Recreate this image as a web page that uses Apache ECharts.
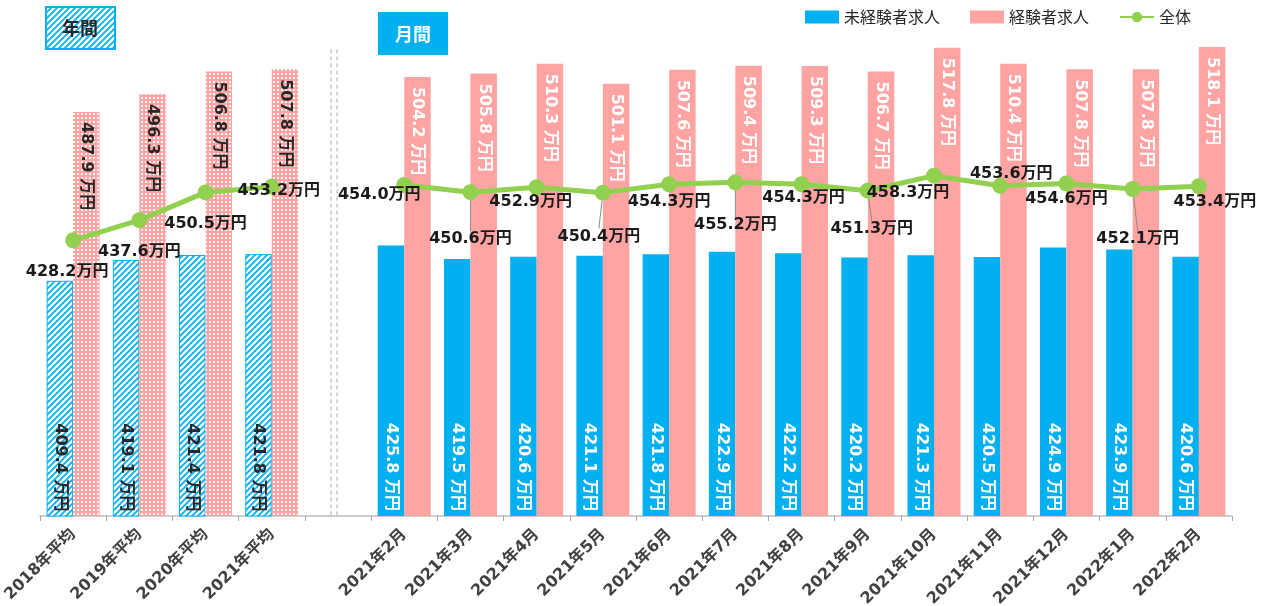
<!DOCTYPE html>
<html>
<head>
<meta charset="utf-8">
<script src="https://cdn.jsdelivr.net/npm/echarts@6/dist/echarts.min.js"></script>
<style>
html,body{margin:0;padding:0;background:#fff;}
#chart{width:1266px;height:606px;}
</style>
</head>
<body>
<div id="chart"></div>
<script>
const categories = ['2018年平均','2019年平均','2020年平均','2021年平均','',
  '2021年2月','2021年3月','2021年4月','2021年5月','2021年6月','2021年7月','2021年8月',
  '2021年9月','2021年10月','2021年11月','2021年12月','2022年1月','2022年2月'];
const inexperienced = [409.4,419.1,421.4,421.8,null,425.8,419.5,420.6,421.1,421.8,422.9,422.2,420.2,421.3,420.5,424.9,423.9,420.6];
const experienced = [487.9,496.3,506.8,507.8,null,504.2,505.8,510.3,501.1,507.6,509.4,509.3,506.7,517.8,510.4,507.8,507.8,518.1];
const overall = [428.2,437.6,450.5,453.2,null,454.0,450.6,452.9,450.4,454.3,455.2,454.3,451.3,458.3,453.6,454.6,452.1,453.4];
const annualCount = 4;

// label layout offsets for the 全体 line labels (style only)
const lineLabelOffsets = [[-6,31],[0,32],[0,31],[7,4],[0,0],[-25,10],[0,47],[-6,15],[-4,44],[0,18],[0,43],[2,14],[4,38],[-26,17],[11,-12],[0,15],[5,50],[16,16]];
const leaderIdx = [6,8,10,12,16];

const BLUE = '#00b0f0', PINK = '#ffa3a3', GREEN = '#92d050';
const FONT = "'DejaVu Sans','Noto Sans CJK JP',sans-serif";

function stripePattern(){
  const c = document.createElement('canvas'); c.width = 6; c.height = 6;
  const g = c.getContext('2d');
  g.fillStyle = '#fff'; g.fillRect(0,0,6,6);
  g.strokeStyle = BLUE; g.lineWidth = 1.8;
  g.beginPath();
  g.moveTo(-1,7); g.lineTo(7,-1);
  g.moveTo(-4,4); g.lineTo(4,-4);
  g.moveTo(2,10); g.lineTo(10,2);
  g.stroke();
  return c;
}
function dotPattern(){
  const c = document.createElement('canvas'); c.width = 4; c.height = 4;
  const g = c.getContext('2d');
  g.fillStyle = PINK; g.fillRect(0,0,4,4);
  g.fillStyle = 'rgba(255,255,255,0.9)'; g.fillRect(1,1,2,2);
  return c;
}
const stripe = {image: stripePattern(), repeat: 'repeat'};
const dots = {image: dotPattern(), repeat: 'repeat'};

const blueData = inexperienced.map((v,i)=> i < annualCount ? {
  value: v,
  itemStyle: {color: stripe, borderColor: BLUE, borderWidth: 1},
  label: {color: '#262626'}
} : v);
const pinkData = experienced.map((v,i)=> i < annualCount ? {
  value: v,
  itemStyle: {color: dots},
  label: {color: '#262626'}
} : v);
const lineData = overall.map((v,i)=> leaderIdx.indexOf(i) >= 0 ? {
  value: v, labelLine: {show: true}
} : v);

const chart = echarts.init(document.getElementById('chart'));
const option = {
  animation: false,
  legend: {
    top: 4, right: 70,
    itemWidth: 34, itemHeight: 13, itemGap: 30,
    textStyle: {fontSize: 16, color: '#262626', fontFamily: "'Noto Sans CJK JP',sans-serif"},
    data: [
      {name: '未経験者求人', icon: 'rect'},
      {name: '経験者求人', icon: 'rect'},
      {name: '全体'}
    ]
  },
  grid: {left: 40, right: 34, top: 43, bottom: 90, containLabel: false, outerBoundsMode: 'none'},
  xAxis: {
    type: 'category',
    data: categories,
    boundaryGap: true,
    axisLine: {lineStyle: {color: '#bfbfbf', width: 1.5}},
    axisTick: {show: true, alignWithLabel: false, length: 5, lineStyle: {color: '#a6a6a6'}},
    axisLabel: {
      interval: 0, rotate: 45, margin: 16,
      fontSize: 16, fontWeight: 'bold', color: '#404040', fontFamily: FONT
    }
  },
  yAxis: {
    type: 'value', min: 300, max: 520, show: false, splitLine: {show: false}
  },
  series: [
    {
      name: '未経験者求人', type: 'bar', data: blueData,
      barWidth: '40%', barGap: '0%',
      itemStyle: {color: BLUE},
      label: {
        show: true, position: 'insideBottom', rotate: -90, distance: 5,
        align: 'right', verticalAlign: 'middle',
        formatter: p => p.value.toFixed(1) + ' 万円',
        color: '#fff', fontSize: 16, fontWeight: 'bold', fontFamily: FONT
      }
    },
    {
      name: '経験者求人', type: 'bar', data: pinkData,
      barWidth: '40%', barGap: '0%',
      itemStyle: {color: PINK},
      label: {
        show: true, position: 'insideTop', rotate: -90, distance: 10,
        align: 'left', verticalAlign: 'middle',
        formatter: p => p.value.toFixed(1) + ' 万円',
        color: '#fff', fontSize: 16, fontWeight: 'bold', fontFamily: FONT
      }
    },
    {
      name: '全体', type: 'line', data: lineData,
      connectNulls: false,
      symbol: 'circle', symbolSize: 16,
      lineStyle: {color: GREEN, width: 5},
      itemStyle: {color: GREEN},
      z: 5,
      label: {
        show: true, position: 'inside',
        formatter: p => p.value.toFixed(1) + '万円',
        color: '#1a1a1a', fontSize: 16, fontWeight: 'bold', fontFamily: FONT
      },
      labelLine: {show: false, lineStyle: {color: '#8c8c8c', width: 1}},
      labelLayout: function(p){
        const o = lineLabelOffsets[p.dataIndex] || [0,0];
        return {dx: o[0], dy: o[1]};
      }
    }
  ]
};
chart.setOption(option);

// decorations: separator lines and panel titles
const sepX = chart.convertToPixel({xAxisIndex: 0}, 4);
const baseY = chart.convertToPixel({yAxisIndex: 0}, 300);
const topY = chart.convertToPixel({yAxisIndex: 0}, 517);
chart.setOption({
  graphic: [
    {type: 'line', shape: {x1: sepX - 7, y1: topY, x2: sepX - 7, y2: baseY}, style: {stroke: '#c8c8c8', lineWidth: 1.5, lineDash: [4,3]}},
    {type: 'line', shape: {x1: sepX - 1, y1: topY, x2: sepX - 1, y2: baseY}, style: {stroke: '#c8c8c8', lineWidth: 1.5, lineDash: [4,3]}},
    {type: 'rect', left: 45, top: 6, shape: {width: 69, height: 42},
      style: {fill: stripe, stroke: BLUE, lineWidth: 2}},
    {type: 'text', x: 80, y: 28, style: {text: '年間', fill: '#262626', font: "bold 18px 'Noto Sans CJK JP'", textAlign: 'center', textVerticalAlign: 'middle'}},
    {type: 'rect', left: 378, top: 12, shape: {width: 70, height: 43},
      style: {fill: BLUE}},
    {type: 'text', x: 413, y: 34, style: {text: '月間', fill: '#fff', font: "bold 18px 'Noto Sans CJK JP'", textAlign: 'center', textVerticalAlign: 'middle'}}
  ]
});
</script>
</body>
</html>
